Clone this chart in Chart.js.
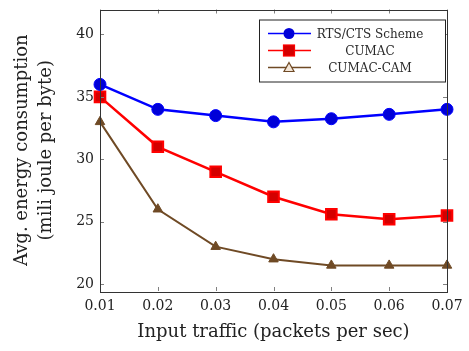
<!DOCTYPE html>
<html>
<head>
<meta charset="utf-8">
<script src="https://cdn.jsdelivr.net/npm/chart.js@4/dist/chart.umd.min.js"></script>
<style>
  html, body { margin: 0; padding: 0; background: #fff; }
  #wrap { width: 469px; height: 351px; }
</style>
</head>
<body>
<div id="wrap"><canvas id="chart" width="469" height="351"></canvas></div>
<script>
// values
const traffic = ['0.01', '0.02', '0.03', '0.04', '0.05', '0.06', '0.07'];
const rtsCts = [36, 34, 33.5, 33, 33.25, 33.6, 34];
const cumac = [35, 31, 29, 27, 25.6, 25.2, 25.5];
const cumacCam = [33, 26, 23, 22, 21.5, 21.5, 21.5];
const yTicks = [20, 25, 30, 35, 40];

const serif = '"DejaVu Serif", "Liberation Serif", serif';
const brown = '#6f4a25';

// pgfplots-like frame, inward ticks and legend
const framePlugin = {
    id: 'frame',
    afterDatasetsDraw(chart) {
        const { ctx, chartArea: a, scales } = chart;
        ctx.save();
        ctx.strokeStyle = '#808080';
        ctx.lineWidth = 1;
        ctx.beginPath();
        yTicks.forEach(v => {
            const y = Math.round(scales.y.getPixelForValue(v)) + 0.5;
            ctx.moveTo(a.left, y); ctx.lineTo(a.left + 4, y);
            ctx.moveTo(a.right, y); ctx.lineTo(a.right - 4, y);
        });
        traffic.forEach((t, i) => {
            const x = Math.round(scales.x.getPixelForValue(i)) + 0.5;
            ctx.moveTo(x, a.bottom); ctx.lineTo(x, a.bottom - 4);
            ctx.moveTo(x, a.top); ctx.lineTo(x, a.top + 4);
        });
        ctx.stroke();
        ctx.strokeStyle = '#333';
        ctx.strokeRect(Math.round(a.left) + 0.5, Math.round(a.top) + 0.5,
            Math.round(a.right - a.left), Math.round(a.bottom - a.top));

        // legend box
        const bx = a.right - 188, by = a.top + 10, bw = 186, bh = 62;
        ctx.fillStyle = '#fff';
        ctx.fillRect(bx, by, bw, bh);
        ctx.strokeStyle = '#222';
        ctx.strokeRect(bx + 0.5, by + 0.5, bw, bh);
        const ds = chart.data.datasets;
        ctx.font = '12px ' + serif;
        ctx.textAlign = 'center';
        ctx.textBaseline = 'middle';
        ds.forEach((d, i) => {
            const y = by + 14 + i * 17;
            ctx.strokeStyle = d.borderColor;
            ctx.lineWidth = 1.5;
            ctx.beginPath();
            ctx.moveTo(bx + 9, y); ctx.lineTo(bx + 52, y);
            ctx.stroke();
            const cx = bx + 30;
            ctx.lineWidth = 1.2;
            if (d.pointStyle === 'circle') {
                ctx.fillStyle = d.pointBackgroundColor;
                ctx.beginPath(); ctx.arc(cx, y, 5.5, 0, Math.PI * 2); ctx.fill();
            } else if (d.pointStyle === 'rect') {
                ctx.fillStyle = d.pointBackgroundColor;
                ctx.fillRect(cx - 5.5, y - 5.5, 11, 11);
                ctx.strokeStyle = d.borderColor;
                ctx.strokeRect(cx - 5.5, y - 5.5, 11, 11);
            } else {
                ctx.fillStyle = '#f3e6d8';
                ctx.beginPath();
                ctx.moveTo(cx, y - 5); ctx.lineTo(cx + 5, y + 4); ctx.lineTo(cx - 5, y + 4);
                ctx.closePath(); ctx.fill(); ctx.stroke();
            }
            ctx.fillStyle = '#2a2a2a';
            ctx.fillText(d.label, bx + 111, y + 1);
        });
        ctx.restore();
    }
};

new Chart(document.getElementById('chart'), {
    type: 'line',
    data: {
        labels: traffic,
        datasets: [
            {
                label: 'RTS/CTS Scheme',
                data: rtsCts,
                borderColor: '#0000ff',
                borderWidth: 2.5,
                pointStyle: 'circle',
                pointRadius: 6,
                pointBackgroundColor: '#0000d8',
                pointBorderColor: '#0000ff',
                pointBorderWidth: 1,
                clip: false
            },
            {
                label: 'CUMAC',
                data: cumac,
                borderColor: '#ff0000',
                borderWidth: 2.5,
                pointStyle: 'rect',
                pointRadius: 7.5,
                pointBackgroundColor: '#d40000',
                pointBorderColor: '#ff0000',
                pointBorderWidth: 2,
                clip: false
            },
            {
                label: 'CUMAC-CAM',
                data: cumacCam,
                borderColor: brown,
                borderWidth: 2,
                pointStyle: 'triangle',
                pointRadius: 5.5,
                pointBackgroundColor: brown,
                pointBorderColor: brown,
                pointBorderWidth: 1,
                clip: false
            }
        ]
    },
    options: {
        responsive: false,
        animation: false,
        tension: 0,
        layout: { padding: { left: 0, right: 22, top: 7, bottom: 0 } },
        plugins: {
            legend: { display: false },
            tooltip: { enabled: false }
        },
        scales: {
            x: {
                type: 'category',
                offset: false,
                grid: { display: false, drawTicks: false },
                border: { display: false },
                ticks: { color: '#222', font: { family: serif, size: 14 }, padding: 7, maxRotation: 0 },
                title: {
                    display: true,
                    text: 'Input traffic (packets per sec)',
                    color: '#222',
                    font: { family: serif, size: 18, lineHeight: 1.2 },
                    padding: { top: 4, bottom: 8 }
                },
                afterFit(scale) {
                    scale.height = 60;
                    scale.paddingLeft = 0; scale.paddingRight = 0;
                }
            },
            y: {
                min: 19.45,
                max: 42,
                grid: { display: false, drawTicks: false },
                border: { display: false },
                afterBuildTicks(scale) { scale.ticks = yTicks.map(v => ({ value: v })); },
                ticks: { color: '#222', font: { family: serif, size: 14 }, padding: 6 },
                title: {
                    display: true,
                    text: ['Avg. energy consumption', '(mili joule per byte)'],
                    color: '#222',
                    font: { family: serif, size: 18, lineHeight: 1.3 },
                    padding: { top: 11 }
                },
                afterFit(scale) {
                    scale.width = 100;
                    scale.paddingTop = 0; scale.paddingBottom = 0;
                }
            }
        }
    },
    plugins: [framePlugin]
});
</script>
</body>
</html>
